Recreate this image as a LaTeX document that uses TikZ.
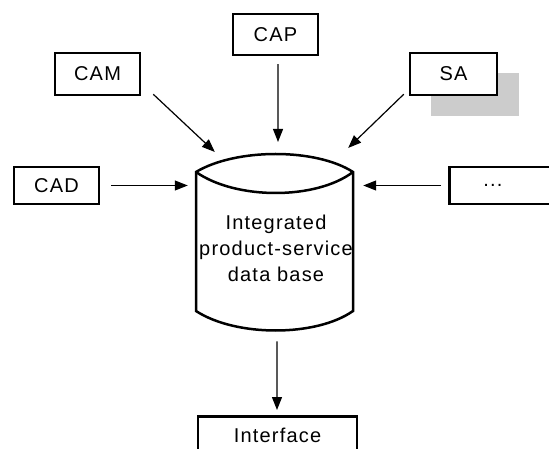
\documentclass[tikz,border=0pt]{standalone}
\usepackage{fontspec}
\setmainfont{Liberation Sans}[LetterSpace=6]
\usetikzlibrary{arrows.meta}
\definecolor{shadowgray}{RGB}{204,204,204}
\begin{document}
\begin{tikzpicture}[x=1bp,y=-1bp,
  box/.style={draw,line width=2.5bp,fill=white,inner sep=0pt,minimum width=85bp,minimum height=41bp},
  arr/.style={-{Triangle[length=13bp,width=10bp]},line width=1.2bp},
  outline/.style={line width=2.5bp},
  font=\fontsize{20bp}{26bp}\selectfont]
\useasboundingbox (0,0) rectangle (549,449);
% shadow of SA
\fill[shadowgray] (431,73) rectangle (519,116);
% boxes
\node[box] (CAP) at (275.5,34.5) {CAP};
\node[box, minimum height=42bp] (CAM) at (97.5,74) {CAM};
\node[box, minimum width=87bp, minimum height=42bp] (SA) at (453.5,74) {SA};
\node[box, minimum height=37bp] (CAD) at (56.5,185.5) {CAD};
\node[box, anchor=west, minimum height=37bp, inner xsep=34bp, text width=40bp, align=left] (more) at (448,185.5) {...};
\node[box, anchor=north, minimum width=159bp, minimum height=38bp] (iface) at (277.5,415) {Interface};
% cylinder
\draw[outline, fill=white] (196,172) .. controls (236,148) and (316,148) .. (353,172)
  -- (353,311) .. controls (316,337) and (236,337) .. (196,311) -- cycle;
\draw[outline] (196,172) .. controls (236,200) and (316,200) .. (353,172);
\node[align=center, inner sep=0pt, minimum width=158bp, minimum height=177bp] (db) at (276,248.65)
  {Integrated\\product-service\\data base};
% connectors
\draw[arr] ([shift={(2.5,8)}]CAP.south) -- ([shift={(2,-18)}]db.north);
\draw[arr] ([shift={(12,-2)}]CAM.south east) -- ([shift={(18,-8)}]db.north west);
\draw[arr] ([shift={(-5,-2)}]SA.south west) -- ([shift={(-7,-12)}]db.north east);
\draw[arr, shorten <=11bp, shorten >=9bp] (CAD.east) -- (CAD.east -| db.west);
\draw[arr, shorten <=7bp, shorten >=8bp] (more.west) -- (more.west -| db.east);
\draw[arr, shorten <=4bp, shorten >=5bp] ([xshift=1]db.south) -- ([xshift=-0.5]iface.north);
\end{tikzpicture}
\end{document}
